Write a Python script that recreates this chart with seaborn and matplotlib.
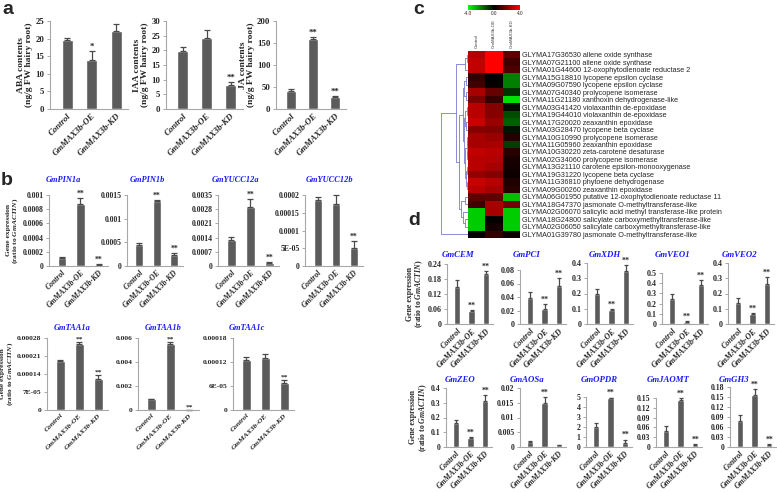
import matplotlib
matplotlib.use("Agg")
import matplotlib.pyplot as plt
from matplotlib.colors import LinearSegmentedColormap, Normalize
from matplotlib.cm import ScalarMappable
import numpy as np
import pandas as pd
import seaborn as sns

# ---------------- data ----------------
groups = ["Control", "GmMAX3b-OE", "GmMAX3b-KD"]

# panel a: hormone contents
aba_mean = [19.5, 14.0, 22.2]
aba_err = [0.8, 2.4, 1.9]
aba_sig = ["", "*", ""]
iaa_mean = [19.8, 24.1, 8.3]
iaa_err = [1.4, 3.0, 0.8]
iaa_sig = ["", "", "**"]
ja_mean = [42, 158, 28]
ja_err = [3, 6, 1.2]
ja_sig = ["", "**", "**"]

# panel b: auxin genes (ratio to GmACTIN)
b_top_genes = ["GmPIN1a", "GmPIN1b", "GmYUCC12a", "GmYUCC12b"]
b_top_mean = [[0.00011, 0.00088, 0.00002], [0.00044, 0.00137, 0.00023],
              [0.0013, 0.0029, 0.00015], [0.000185, 0.000175, 0.00005]]
b_top_err = [[0.00001, 0.00008, 0.000005], [0.00004, 0.00002, 0.00005],
             [0.00015, 0.0004, 0.00005], [0.00001, 0.000025, 0.00002]]
b_top_sig = [["", "**", "**"], ["", "**", "**"], ["", "**", "**"], ["", "", "**"]]
b_top_ticks = [[0, 0.0002, 0.0004, 0.0006, 0.0008, 0.001], [0, 0.0005, 0.001, 0.0015],
               [0, 0.0007, 0.0014, 0.0021, 0.0028, 0.0035], [0, 0.00005, 0.0001, 0.00015, 0.0002]]
b_top_ticklabels = [["0", "0.0002", "0.0004", "0.0006", "0.0008", "0.001"],
                    ["0", "0.0005", "0.001", "0.0015"],
                    ["0", "0.0007", "0.0014", "0.0021", "0.0028", "0.0035"],
                    ["0", "5E-05", "0.0001", "0.00015", "0.0002"]]

b_bot_genes = ["GmTAA1a", "GmTAA1b", "GmTAA1c"]
b_bot_mean = [[0.00019, 0.000255, 0.00012], [0.0009, 0.0055, 0.00003],
              [0.000125, 0.00013, 0.000067]]
b_bot_err = [[0.000003, 0.00001, 0.000015], [0.00005, 0.0002, 0.00001],
             [0.000007, 0.00001, 0.000008]]
b_bot_sig = [["", "**", "**"], ["", "**", "**"], ["", "", "**"]]
b_bot_ticks = [[0, 0.00007, 0.00014, 0.00021, 0.00028], [0, 0.002, 0.004, 0.006],
               [0, 0.00006, 0.00012, 0.00018]]
b_bot_ticklabels = [["0", "7E-05", "0.00014", "0.00021", "0.00028"],
                    ["0", "0.002", "0.004", "0.006"],
                    ["0", "6E-05", "0.00012", "0.00018"]]

# panel c: heatmap
gene_ids = ["GLYMA17G36530", "GLYMA07G21100", "GLYMA01G44600", "GLYMA15G18810",
            "GLYMA09G07590", "GLYMA07G40340", "GLYMA11G21180", "GLYMA03G41420",
            "GLYMA19G44010", "GLYMA17G20020", "GLYMA03G28470", "GLYMA10G10990",
            "GLYMA11G05960", "GLYMA10G30220", "GLYMA02G34060", "GLYMA13G21110",
            "GLYMA19G31220", "GLYMA11G36810", "GLYMA09G00260", "GLYMA06G01950",
            "GLYMA18G47370", "GLYMA02G06070", "GLYMA18G24800", "GLYMA02G06050",
            "GLYMA01G39780"]
gene_names = ["allene oxide synthase", "allene oxide synthase",
              "12-oxophytodienoate reductase 2", "lycopene epsilon cyclase",
              "lycopene epsilon cyclase", "prolycopene isomerase",
              "xanthoxin dehydrogenase-like", "violaxanthin de-epoxidase",
              "violaxanthin de-epoxidase", "zeaxanthin epoxidase",
              "lycopene beta cyclase", "prolycopene isomerase",
              "zeaxanthin epoxidase", "zeta-carotene desaturase",
              "prolycopene isomerase", "carotene epsilon-monooxygenase",
              "lycopene beta cyclase", "phytoene dehydrogenase",
              "zeaxanthin epoxidase", "putative 12-oxophytodienoate reductase 11",
              "jasmonate O-methyltransferase-like",
              "salicylic acid methyl transferase-like protein",
              "salicylate carboxymethyltransferase-like",
              "salicylate carboxymethyltransferase-like",
              "jasmonate O-methyltransferase-like"]
hm_control = [2.8, 3.0, 3.0, 0.8, 1.0, 2.6, 1.9, 2.9, 2.9, 3.1, 2.1, 2.6, 2.6,
              3.0, 2.9, 2.9, 2.3, 3.1, 2.9, 1.5, 1.0, -3.2, -3.2, -3.2, 0.1]
hm_oe = [4.0, 4.0, 4.0, 0.0, 0.1, 1.6, 0.8, 2.1, 2.1, 2.4, 2.0, 2.4, 2.6,
         2.9, 2.8, 2.6, 2.1, 2.9, 2.6, 1.5, 2.6, 2.6, 0.0, 0.3, 0.8]
hm_kd = [1.5, 1.0, 1.2, -2.0, -2.0, -0.8, -3.5, -0.2, -1.2, -1.5, -0.3, 0.5, -1.0,
         0.6, 0.4, 0.3, 0.2, 0.5, 0.6, -3.0, 1.8, -3.2, -3.2, -3.2, 0.2]

# row dendrogram: (height, [left, right]) with leaf = row index
tree = (1.0, [(0.45, [(0.1, [(0.04, [0, 1]), 2]),
                      (0.32, [(0.2, [(0.14, [(0.06, [3, 4]), (0.09, [5, 6])]),
                                     (0.16, [(0.12, [(0.05, [7, 8]), (0.07, [9, 10])]),
                                             (0.1, [(0.05, [(0.03, [11, 12]), (0.04, [13, 14])]),
                                                    (0.06, [(0.03, [15, 16]), (0.04, [17, 18])])])])]),
                              (0.25, [(0.12, [19, 20]), (0.18, [21, (0.1, [22, 23])])])])]),
              24])

# panel d: carotenoid / JA genes
d_top_genes = ["GmCEM", "GmPCI", "GmXDH", "GmVEO1", "GmVEO2"]
d_top_mean = [[0.15, 0.052, 0.2], [0.038, 0.022, 0.056], [0.195, 0.095, 0.345],
              [0.25, 0.02, 0.38], [0.14, 0.065, 0.26]]
d_top_err = [[0.025, 0.005, 0.012], [0.01, 0.007, 0.012], [0.035, 0.005, 0.04],
             [0.04, 0.005, 0.05], [0.03, 0.004, 0.05]]
d_top_sig = [["", "**", "**"]] * 5
d_top_ticks = [[0, 0.06, 0.12, 0.18, 0.24], [0, 0.02, 0.04, 0.06, 0.08],
               [0, 0.1, 0.2, 0.3, 0.4], [0, 0.1, 0.2, 0.3, 0.4, 0.5], [0, 0.1, 0.2, 0.3, 0.4]]
d_top_ticklabels = [["0", "0.06", "0.12", "0.18", "0.24"], ["0", "0.02", "0.04", "0.06", "0.08"],
                    ["0", "0.1", "0.2", "0.3", "0.4"], ["0", "0.1", "0.2", "0.3", "0.4", "0.5"],
                    ["0", "0.1", "0.2", "0.3", "0.4"]]

d_bot_genes = ["GmZEO", "GmAOSa", "GmOPDR", "GmJAOMT", "GmGH3"]
d_bot_mean = [[0.16, 0.063, 0.315], [0.0018, 0.015, 0.0006], [2.0, 4.9, 0.45],
              [0.05, 0.145, 0.006], [0.077, 0.155, 0.006]]
d_bot_err = [[0.02, 0.004, 0.04], [0.0002, 0.002, 0.0001], [0.4, 0.05, 0.3],
             [0.015, 0.005, 0.002], [0.02, 0.02, 0.002]]
d_bot_sig = [["", "**", "**"], ["", "**", ""], ["", "**", "**"], ["", "**", "**"], ["", "**", "**"]]
d_bot_ticks = [[0, 0.1, 0.2, 0.3, 0.4], [0, 0.005, 0.01, 0.015, 0.02], [0, 1, 2, 3, 4, 5],
               [0, 0.03, 0.06, 0.09, 0.12, 0.15], [0, 0.03, 0.06, 0.09, 0.12, 0.15, 0.18]]
d_bot_ticklabels = [["0", "0.1", "0.2", "0.3", "0.4"], ["0", "0.005", "0.01", "0.015", "0.02"],
                    ["0", "1", "2", "3", "4", "5"],
                    ["0", "0.03", "0.06", "0.09", "0.12", "0.15"],
                    ["0", "0.03", "0.06", "0.09", "0.12", "0.15", "0.18"]]

# ---------------- style ----------------
sns.set_theme(style="white")
plt.rcParams["font.family"] = ["Liberation Serif", "DejaVu Serif"]
plt.rcParams["font.weight"] = "bold"
plt.rcParams["mathtext.fontset"] = "custom"
plt.rcParams["mathtext.it"] = "Liberation Serif:italic:bold"
plt.rcParams["mathtext.rm"] = "Liberation Serif:bold"

BAR = "#5b5b5b"
ERR = "#4a4a4a"
AXIS = "#a8a8a8"
BLUE = "#1a1aff"
GENE_YLABEL = "Gene expression\n(ratio to $GmACTIN$)"

W, H = 777, 493
fig = plt.figure(figsize=(W / 100, H / 100), dpi=100)
fig.patch.set_facecolor("white")


def px_axes(left, top, right, bottom):
    return fig.add_axes([left / W, 1 - bottom / H, (right - left) / W, (bottom - top) / H])


def bar_panel(left, top, bottom, step, mean, err, sig, ticks, ticklabels,
              ylabel=None, fs=6, cap=2.2, yl_fs=None):
    ax = px_axes(left, top, left + 3.2 * step, bottom)
    df = pd.DataFrame({"group": groups, "value": mean})
    sns.barplot(data=df, x="group", y="value", color=BAR, saturation=1,
                width=0.45, ax=ax)
    eb = ax.errorbar(range(3), mean, yerr=[[0, 0, 0], err], fmt="none",
                     ecolor=ERR, elinewidth=0.9, capsize=cap, capthick=0.9)
    for art in list(eb.lines[1]) + list(eb.lines[2]):
        art.set_clip_on(False)
    for i, (m, e, s) in enumerate(zip(mean, err, sig)):
        if s:
            ax.text(i, m + e + ticks[-1] * 0.005, s, ha="center", va="bottom",
                    fontsize=fs, fontweight="bold")
    ax.set_xlim(-0.7, 2.5)
    ax.set_ylim(0, ticks[-1])
    ax.set_yticks(ticks)
    ax.set_yticklabels(ticklabels, fontsize=fs, fontweight="bold")
    ax.set_xticks(range(3))
    ax.set_xticklabels(groups, rotation=45, ha="right", rotation_mode="anchor",
                       fontsize=fs, fontstyle="italic", fontweight="bold")
    ax.tick_params(axis="y", left=True, length=2.5, width=0.7, color=AXIS, pad=1.5)
    ax.tick_params(axis="x", bottom=False, length=0, pad=2)
    for s in ["top", "right"]:
        ax.spines[s].set_visible(False)
    for s in ["left", "bottom"]:
        ax.spines[s].set_color(AXIS)
        ax.spines[s].set_linewidth(0.8)
    ax.set_xlabel("")
    ax.set_ylabel(ylabel or "", fontsize=yl_fs or fs + 0.5, fontweight="bold",
                  labelpad=1.5, linespacing=1.0)
    ax.set_facecolor("none")
    return ax


def title(x, y, text, fs):
    fig.text(x / W, 1 - y / H, text, color=BLUE, fontstyle="italic",
             fontweight="bold", fontsize=fs, ha="center", va="center")


def letter(x, y, text):
    fig.text(x / W, 1 - y / H, text, fontsize=14, fontweight="bold",
             family="Liberation Sans", ha="left", va="top")


# ================= PANEL a =================
bar_panel(50, 21, 109, 24.5, aba_mean, aba_err, aba_sig, [0, 5, 10, 15, 20, 25],
          ["0", "5", "10", "15", "20", "25"], ylabel="ABA contents\n(ng/g FW hairy root)", fs=6.3)
bar_panel(166, 21, 109, 24, iaa_mean, iaa_err, iaa_sig, [0, 5, 10, 15, 20, 25, 30],
          ["0", "5", "10", "15", "20", "25", "30"], ylabel="IAA contents\n(ng/g FW hairy root)", fs=6.3)
bar_panel(276, 21, 109, 22, ja_mean, ja_err, ja_sig, [0, 50, 100, 150, 200],
          ["0", "50", "100", "150", "200"], ylabel="JA contents\n(ng/g FW hairy root)", fs=6.3)
letter(2, 0.5, "a")

# ================= PANEL b =================
b_top_left = [49, 127, 218, 305]
b_top_step = [18.5, 17.5, 19, 18]
b_top_title_x = [63, 147, 236, 330]
for i, g in enumerate(b_top_genes):
    bar_panel(b_top_left[i], 195, 266, b_top_step[i], b_top_mean[i], b_top_err[i],
              b_top_sig[i], b_top_ticks[i], b_top_ticklabels[i],
              ylabel=GENE_YLABEL if i == 0 else None, fs=5.6, yl_fs=5.4)
    title(b_top_title_x[i], 180, g, 6)

b_bot_left = [47, 138, 233]
b_bot_title_x = [72, 163, 247]
for i, g in enumerate(b_bot_genes):
    bar_panel(b_bot_left[i], 338, 410, 19, b_bot_mean[i], b_bot_err[i],
              b_bot_sig[i], b_bot_ticks[i], b_bot_ticklabels[i],
              ylabel=GENE_YLABEL if i == 0 else None, fs=5.4, yl_fs=5.2)
    title(b_bot_title_x[i], 328, g, 6)
letter(1, 172, "b")

# ================= PANEL c =================
cmap = LinearSegmentedColormap.from_list("gkr", ["#00ff00", "#000000", "#ff0000"])
hm_df = pd.DataFrame({"Control": hm_control, "GmMAX3b-OE": hm_oe, "GmMAX3b-KD": hm_kd},
                     index=[f"{a} {b}" for a, b in zip(gene_ids, gene_names)])
ax_hm = px_axes(468, 51, 520, 238)
sns.heatmap(hm_df, ax=ax_hm, cmap=cmap, vmin=-4, vmax=4, cbar=False,
            xticklabels=True, yticklabels=True)
ax_hm.yaxis.tick_right()
ax_hm.set_yticklabels(hm_df.index, rotation=0, fontsize=5.2, fontweight="normal",
                      family="Liberation Sans")
ax_hm.tick_params(axis="y", length=0, pad=1.5, right=False)
ax_hm.xaxis.tick_top()
ax_hm.set_xticklabels(hm_df.columns, rotation=90, fontsize=3.2, fontweight="normal",
                      family="Liberation Sans", color="#333333")
ax_hm.tick_params(axis="x", length=0, pad=2, top=False)

# colour key
cax = px_axes(468, 5, 520, 10)
cb = fig.colorbar(ScalarMappable(norm=Normalize(-4, 4), cmap=cmap), cax=cax,
                  orientation="horizontal", ticks=[-4, 0, 4])
cb.outline.set_visible(False)
cb.ax.set_xticklabels(["-4.0", "0.0", "4.0"], fontsize=3.4, fontweight="normal",
                      family="Liberation Sans")
cb.ax.tick_params(length=0, pad=0.5)

# row dendrogram
ax_tree = px_axes(440, 51, 468, 238)


def draw_tree(node):
    if isinstance(node, int):
        return node + 0.5, 0.0
    h, (a, b) = node
    ya, ha = draw_tree(a)
    yb, hb = draw_tree(b)
    ax_tree.plot([ha, h, h, hb], [ya, ya, yb, yb], color="#7a7ad0", lw=0.6)
    return (ya + yb) / 2, h


draw_tree(tree)
ax_tree.set_ylim(len(gene_ids), 0)
ax_tree.set_xlim(1.02, 0)
ax_tree.axis("off")
letter(413, 0.5, "c")

# ================= PANEL d =================
d_top_left = [447, 520, 587, 662, 728]
d_top_top = [264, 270, 263, 273, 263]
d_top_title_x = [458, 527, 605, 673, 740]
for i, g in enumerate(d_top_genes):
    bar_panel(d_top_left[i], d_top_top[i], 324, 14.5, d_top_mean[i], d_top_err[i],
              d_top_sig[i], d_top_ticks[i], d_top_ticklabels[i],
              ylabel=GENE_YLABEL if i == 0 else None, fs=5.8, cap=1.6, yl_fs=5.6)
    title(d_top_title_x[i], 255, g, 6.3)

d_bot_left = [446, 520, 586, 656, 730]
d_bot_top = [388, 388, 397, 398, 387]
d_bot_title_x = [460, 527, 599, 668, 734]
for i, g in enumerate(d_bot_genes):
    bar_panel(d_bot_left[i], d_bot_top[i], 447, 14.5, d_bot_mean[i], d_bot_err[i],
              d_bot_sig[i], d_bot_ticks[i], d_bot_ticklabels[i],
              ylabel=GENE_YLABEL if i == 0 else None, fs=5.6, cap=1.6, yl_fs=5.6)
    title(d_bot_title_x[i], 380, g, 6.3)
letter(408, 212, "d")

fig.savefig("out.png", dpi=100, facecolor="white")
